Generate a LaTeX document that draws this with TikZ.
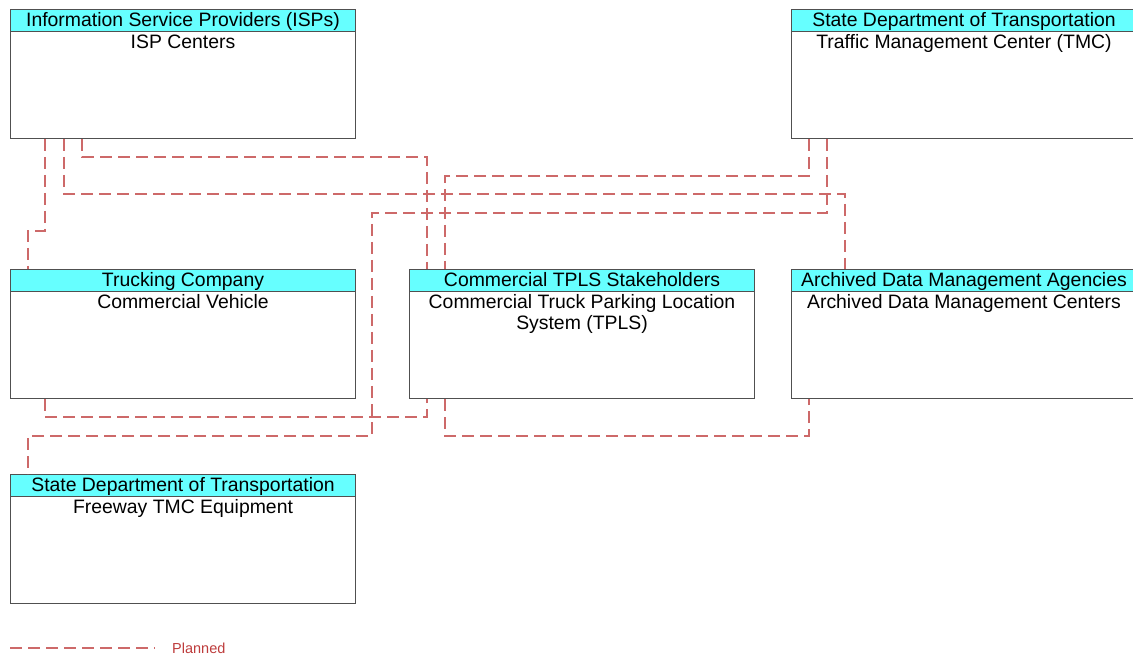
\documentclass[tikz,border=0pt]{standalone}
\usepackage{fontspec}
\setmainfont{Liberation Sans}
\usetikzlibrary{calc}
\definecolor{hdrcyan}{RGB}{102,255,255}
\definecolor{boxline}{RGB}{80,80,80}
\definecolor{plannedred}{RGB}{205,105,105}
\definecolor{legendred}{RGB}{190,60,60}
\begin{document}
\begin{tikzpicture}[x=1pt,y=-1pt,
  bodybox/.style={draw=boxline,line width=1pt,fill=white,anchor=north west,
    minimum width=345pt,minimum height=129pt,inner sep=0pt},
  hdrbox/.style={draw=boxline,line width=1pt,fill=hdrcyan,anchor=north west,
    minimum width=345pt,minimum height=22pt,inner sep=0pt},
  hdrtext/.style={anchor=base,inner sep=0pt,font=\fontsize{19.4}{22}\selectfont},
  bodytext/.style={anchor=base,inner sep=0pt,align=center,font=\fontsize{19.4}{21.5}\selectfont},
  planned/.style={draw=plannedred,line width=1.4pt,dash pattern=on 12pt off 6pt}]
\useasboundingbox[fill=white] (0,0) rectangle (1133,660);

% boxes: body, cyan header strip, title, element name
\node[bodybox] (isp) at (10,9) {};
\node[hdrbox] (isph) at (10,9) {};
\node[hdrtext] (ispt) at ($(isp.north)+(0,17.7)$) {Information Service Providers (ISPs)};
\node[bodytext] (ispb) at ($(isp.north)+(0,39.3)$) {ISP Centers};

\node[bodybox] (tmc) at (791,9) {};
\node[hdrbox] (tmch) at (791,9) {};
\node[hdrtext] (tmct) at ($(tmc.north)+(0,17.7)$) {State Department of Transportation};
\node[bodytext] (tmcb) at ($(tmc.north)+(0,39.3)$) {Traffic Management Center (TMC)};

\node[bodybox] (truck) at (10,269) {};
\node[hdrbox] (truckh) at (10,269) {};
\node[hdrtext] (truckt) at ($(truck.north)+(0,17.7)$) {Trucking Company};
\node[bodytext] (truckb) at ($(truck.north)+(0,39.3)$) {Commercial Vehicle};

\node[bodybox] (tpls) at (409,269) {};
\node[hdrbox] (tplsh) at (409,269) {};
\node[hdrtext] (tplst) at ($(tpls.north)+(0,17.7)$) {Commercial TPLS Stakeholders};
% two-line name: the base anchor sits on the last line
\node[bodytext] (tplsb) at ($(tpls.north)+(0,60.8)$) {Commercial Truck Parking Location\\System (TPLS)};

\node[bodybox] (adm) at (791,269) {};
\node[hdrbox] (admh) at (791,269) {};
\node[hdrtext] (admt) at ($(adm.north)+(0,17.7)$) {Archived Data Management Agencies};
\node[bodytext] (admb) at ($(adm.north)+(0,39.3)$) {Archived Data Management Centers};

\node[bodybox] (fwy) at (10,474) {};
\node[hdrbox] (fwyh) at (10,474) {};
\node[hdrtext] (fwyt) at ($(fwy.north)+(0,17.7)$) {State Department of Transportation};
\node[bodytext] (fwyb) at ($(fwy.north)+(0,39.3)$) {Freeway TMC Equipment};

% planned information flows
\draw[planned] ([xshift=35]isp.south west) |- (28,231) -- ([xshift=18]truck.north west);
\draw[planned] ([xshift=54]isp.south west) |- (845,194) -- ([xshift=54]adm.north west);
\draw[planned] ([xshift=72]isp.south west) |- (427,157) -- ([xshift=18]tpls.north west);
\draw[planned] ([xshift=18]tmc.south west) |- (445,176) -- ([xshift=36]tpls.north west);
\draw[planned] ([xshift=36]tmc.south west) |- (372,213) |- (28,436) -- ([xshift=18]fwy.north west);
\draw[planned] ([xshift=35]truck.south west) |- (427,417) -- ([xshift=18]tpls.south west);
\draw[planned] ([xshift=36]tpls.south west) |- (809,436) -- ([xshift=18]adm.south west);

% legend
\coordinate (lgA) at (10,648);
\coordinate (lgB) at (155,648);
\draw[planned] (lgA) -- (lgB);
\node[anchor=base west,inner sep=0pt,text=legendred,font=\fontsize{14.5}{16}\selectfont] (lgt) at (172,653) {Planned};
\end{tikzpicture}
\end{document}
